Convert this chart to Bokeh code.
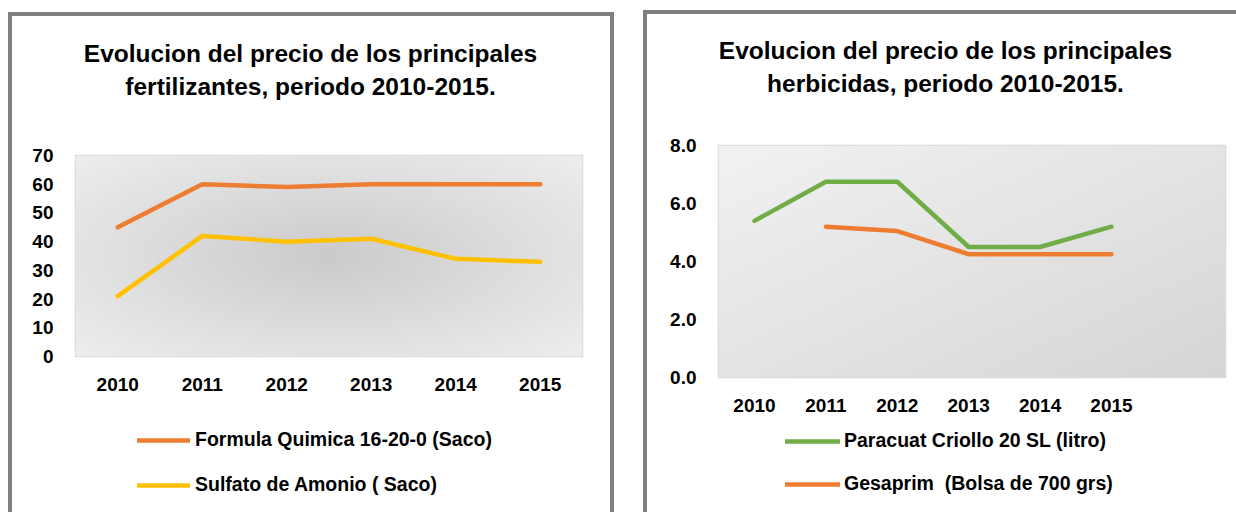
import numpy as np
from bokeh.plotting import figure
from bokeh.layouts import row, column
from bokeh.models import (Legend, LegendItem, Label, FixedTicker, Range1d, NumeralTickFormatter)
from bokeh.embed import file_html
from bokeh.resources import INLINE

# ---------------- data ----------------
years = ["2010", "2011", "2012", "2013", "2014", "2015"]
formula_quimica = [45, 60, 59, 60, 60, 60]
sulfato_amonio = [21, 42, 40, 41, 34, 33]
paracuat = [5.4, 6.75, 6.75, 4.5, 4.5, 5.2]
gesaprim = [float("nan"), 5.2, 5.05, 4.25, 4.25, 4.25]

fert_ticks = [0, 10, 20, 30, 40, 50, 60, 70]
herb_ticks = [0, 2, 4, 6, 8]

title_fert = ["Evolucion del precio de los principales", "fertilizantes, periodo 2010-2015."]
title_herb = ["Evolucion del precio de los principales", "herbicidas, periodo 2010-2015."]
lab_fq = "Formula Quimica 16-20-0 (Saco)"
lab_sa = "Sulfato de Amonio ( Saco)"
lab_pc = "Paracuat Criollo 20 SL (litro)"
lab_ge = "Gesaprim  (Bolsa de 700 grs)"

FONT = "Liberation Sans"
ORANGE = "#ED7D31"
YELLOW = "#FFC000"
GREEN = "#70AD47"
BORDER = "#7f7f7f"
T_BORDER = 20
B_BORDER = 50


def gray_image(kind, nx=200, ny=100):
    u = np.linspace(-1, 1, nx)
    v = np.linspace(-1, 1, ny)
    U, V = np.meshgrid(u, v)
    if kind == "radial":
        r = np.sqrt(U ** 2 + V ** 2) / np.sqrt(2)
        g = 203 + (238 - 203) * r
    else:
        t = ((U + 1) / 2 + (1 - (V + 1) / 2)) / 2
        g = 242 + (214 - 242) * t
    img = np.empty((ny, nx), dtype=np.uint32)
    view = img.view(dtype=np.uint8).reshape((ny, nx, 4))
    g = np.clip(g, 0, 255).astype(np.uint8)
    view[..., 0] = g
    view[..., 1] = g
    view[..., 2] = g
    view[..., 3] = 255
    return img


def blank_fig(w, h, bl, br):
    # data x coordinates equal canvas pixels; frame aligned with the chart frame
    f = figure(width=w, height=h, x_range=Range1d(bl, w - br), y_range=Range1d(0, h),
               x_axis_type=None, y_axis_type=None, output_backend="svg",
               toolbar_location=None, min_border_left=bl, min_border_right=br,
               min_border_top=0, min_border_bottom=0)
    f.background_fill_color = None
    f.border_fill_color = None
    f.outline_line_color = None
    f.xgrid.visible = False
    f.ygrid.visible = False
    return f


def make_panel(width, title_h, title_lines, title_pos, bl, br, frame_h, x_start, x_end, y_end,
               yticks, yfmt, grad, series, legend_h, legend_loc, legend_spacing,
               glyph_w, standoff_lbl, xstandoff, border_css):
    # title
    tf = blank_fig(width, title_h, bl, br)
    for txt, (tx, ty) in zip(title_lines, title_pos):
        tf.add_layout(Label(x=tx, y=title_h - ty, text=txt, text_align="center",
                            text_baseline="middle", text_font=FONT, text_font_style="bold",
                            text_font_size="24.5px", text_color="black"))

    # chart
    xs = list(range(len(years)))
    xr = Range1d(x_start, x_end)
    yr = Range1d(0, y_end)
    p = figure(width=width, height=T_BORDER + frame_h + B_BORDER, x_range=xr, y_range=yr,
               output_backend="svg", toolbar_location=None, min_border_left=bl,
               min_border_right=br, min_border_top=T_BORDER, min_border_bottom=B_BORDER)
    p.background_fill_color = "#e0e0e0"
    p.border_fill_color = None
    p.outline_line_color = "#d9d9d9"
    p.outline_line_width = 1.5
    p.image_rgba(image=[gray_image(grad)], x=xr.start, y=yr.start,
                 dw=xr.end - xr.start, dh=yr.end - yr.start)
    for ax in (p.xaxis[0], p.yaxis[0]):
        ax.axis_line_color = None
        ax.major_tick_line_color = None
        ax.minor_tick_line_color = None
        ax.major_tick_out = 0
        ax.major_tick_in = 0
        ax.major_label_text_font = FONT
        ax.major_label_text_font_style = "bold"
        ax.major_label_text_font_size = "19px"
        ax.major_label_text_color = "black"
    p.xaxis.ticker = FixedTicker(ticks=xs)
    p.xaxis.major_label_overrides = {i: y for i, y in enumerate(years)}
    p.xaxis.major_label_standoff = xstandoff
    p.yaxis.ticker = FixedTicker(ticks=yticks)
    p.yaxis.formatter = NumeralTickFormatter(format=yfmt)
    p.yaxis.major_label_standoff = 22
    p.xgrid.ticker = FixedTicker(ticks=xs)
    p.xgrid.grid_line_color = "#cfcfcf"
    p.xgrid.grid_line_width = 1.2
    p.ygrid.grid_line_color = None
    for vals, color, lab in series:
        p.line(xs, vals, line_color=color, line_width=4.5, line_join="round", line_cap="round")

    # legend (sample lines carry no visible data)
    lf = blank_fig(width, legend_h, bl, br)
    items = []
    for vals, color, lab in series:
        r = lf.line([float("nan")], [float("nan")], line_color=color, line_width=4.5,
                    line_cap="round")
        items.append(LegendItem(label=lab, renderers=[r]))
    leg = Legend(items=items, location=legend_loc, orientation="vertical",
                 border_line_color=None, background_fill_alpha=0, padding=0, margin=0,
                 spacing=legend_spacing, glyph_width=glyph_w, glyph_height=20,
                 label_height=20, label_standoff=standoff_lbl, label_text_font=FONT,
                 label_text_font_style="bold", label_text_font_size="19.5px",
                 label_text_color="black")
    lf.add_layout(leg)

    return column(tf, p, lf, spacing=0, styles=border_css)


def css(lines):
    imgs = ", ".join([f"linear-gradient({BORDER}, {BORDER})"] * len(lines))
    pos = ", ".join(f"{x}px {y}px" for x, y, w, h in lines)
    size = ", ".join(f"{w} {h}" for x, y, w, h in lines)
    return {"background-image": imgs, "background-position": pos,
            "background-size": size, "background-repeat": "no-repeat"}


left_css = css([(8, 12, "4px", "100%"), (8, 12, "606px", "4px"), (610, 12, "4px", "100%")])
right_css = css([(15, 10, "4px", "100%"), (15, 10, "700px", "4px")])

panel1 = make_panel(628, 135, title_fert, [(310, 53), (310, 86)], 75, 46, 201, -0.5, 5.5, 70,
                    fert_ticks, "0", "radial",
                    [(formula_quimica, ORANGE, lab_fq), (sulfato_amonio, YELLOW, lab_sa)],
                    106, (62, 16), 22, 53, 5, 21, left_css)
panel2 = make_panel(608, 125, title_herb, [(317, 50), (317, 83)], 90, 11, 232, -0.504, 6.597, 8,
                    herb_ticks, "0.0", "linear",
                    [(paracuat, GREEN, lab_pc), (gesaprim, ORANGE, lab_ge)],
                    85, (67, 17), 20, 55, 4, 21, right_css)

layout = row(panel1, panel2, spacing=0)
open("out.html", "w").write(file_html(layout, INLINE))
